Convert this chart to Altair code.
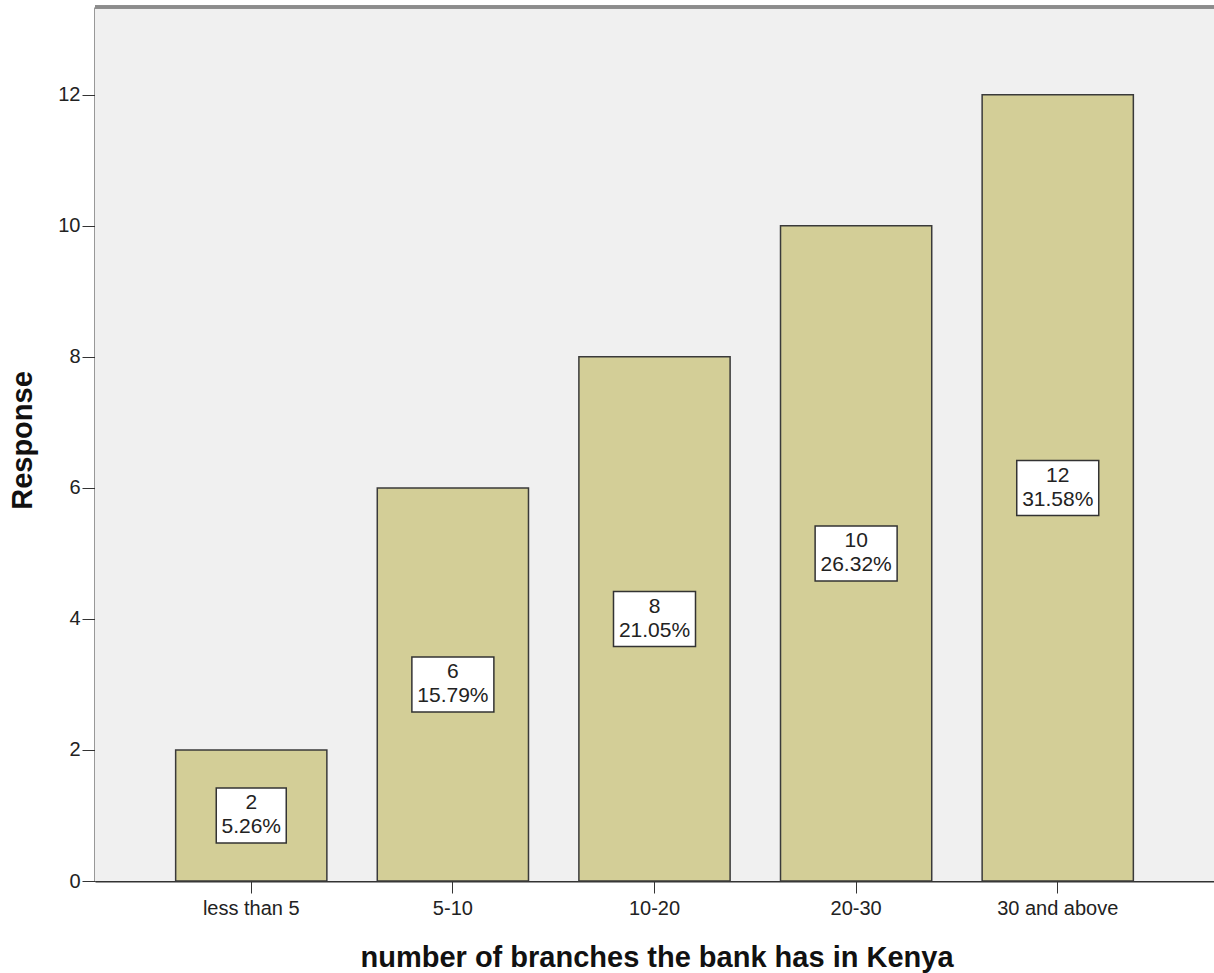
import altair as alt
import pandas as pd

categories = ["less than 5", "5-10", "10-20", "20-30", "30 and above"]
counts = [2, 6, 8, 10, 12]
percents = ["5.26%", "15.79%", "21.05%", "26.32%", "31.58%"]

df = pd.DataFrame({"cat": categories, "count": counts, "pct": percents})

W, H = 1119, 874
FONT = "Liberation Sans"

x_enc = alt.X(
    "cat:N",
    sort=categories,
    scale=alt.Scale(paddingInner=0.25, paddingOuter=0.40),
    axis=alt.Axis(
        title="number of branches the bank has in Kenya",
        labelAngle=0,
        labelFontSize=20,
        labelColor="#222222",
        labelPadding=5,
        tickSize=12,
        tickColor="#333333",
        domainColor="#333333",
        domainWidth=2,
        titleFontSize=29,
        titleFontWeight="bold",
        titleColor="#111111",
        titleX=W / 2 + 2,
        titleY=76,
        titleBaseline="middle",
        grid=False,
    ),
)

y_scale = alt.Scale(domain=[0, 13.34], nice=False, zero=True)

bg = alt.Chart(df).mark_rect(color="#F0F0F0").encode(
    x=alt.value(0), x2=alt.value(W), y=alt.value(0), y2=alt.value(H)
)

bars = alt.Chart(df).mark_bar(
    color="#D3CE97", stroke="#3a3a3a", strokeWidth=1.5
).encode(
    x=x_enc,
    y=alt.Y(
        "count:Q",
        scale=y_scale,
        axis=alt.Axis(
            title="Response",
            values=[0, 2, 4, 6, 8, 10, 12],
            format="d",
            labelFontSize=20,
            labelColor="#222222",
            labelPadding=2,
            tickSize=13,
            tickColor="#333333",
            domainColor="#333333",
            domainWidth=2,
            titleFontSize=29,
            titleFontWeight="bold",
            titleColor="#111111",
            titleX=-73,
            titleY=433,
            titleAngle=270,
            titleAlign="center",
            titleBaseline="middle",
            grid=False,
        ),
    ),
)

boxes = alt.Chart(df).transform_calculate(
    lo="datum.count/2 - 0.42",
    hi="datum.count/2 + 0.42",
    bw="length(datum.pct) * 12 + 10",
).mark_bar(color="white", stroke="#333333", strokeWidth=1.5).encode(
    x=alt.X("cat:N", sort=categories),
    y=alt.Y("lo:Q", scale=y_scale),
    y2="hi:Q",
    size=alt.Size("bw:Q", scale=None, legend=None),
)

texts = alt.Chart(df).transform_calculate(
    mid="datum.count/2",
    lbl="[toString(datum.count), datum.pct]",
).mark_text(
    fontSize=21, color="#222222", lineHeight=24, baseline="middle", align="center", dy=-12
).encode(
    x=alt.X("cat:N", sort=categories),
    y=alt.Y("mid:Q", scale=y_scale),
    text="lbl:N",
)

top_line = alt.Chart(df).mark_rule(color="#8c8c8c", strokeWidth=3).encode(
    x=alt.value(0), x2=alt.value(W), y=alt.value(0)
)

chart = alt.layer(bg, bars, boxes, texts, top_line).properties(
    width=W,
    height=H,
    autosize=alt.AutoSizeParams(type="none"),
    padding={"left": 95, "top": 7, "right": 0, "bottom": 92},
    background="white",
).configure_view(
    strokeWidth=0
).configure(font=FONT)

chart.save("out.html", embed_options={"renderer": "svg", "actions": False})
